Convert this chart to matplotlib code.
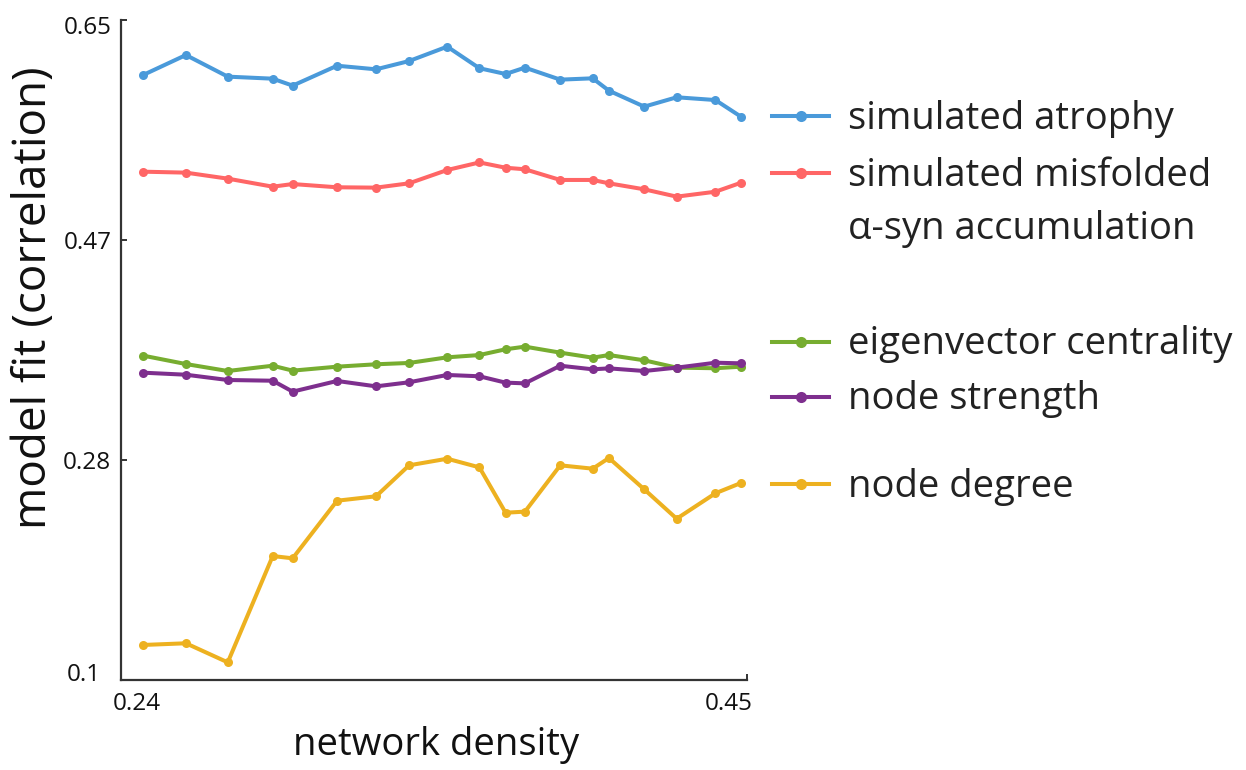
import matplotlib
matplotlib.use("Agg")
import matplotlib.pyplot as plt
from matplotlib.lines import Line2D
from matplotlib.transforms import ScaledTranslation

plt.rcParams['font.family'] = ['Open Sans', 'DejaVu Sans']

# ---------------- data ----------------
density = [0.2400, 0.2550, 0.2697, 0.2855, 0.2925, 0.3081, 0.3218, 0.3334,
           0.3468, 0.3581, 0.3673, 0.3741, 0.3865, 0.3979, 0.4036, 0.4160,
           0.4274, 0.4410, 0.4500]

atrophy = [0.6042, 0.6208, 0.6028, 0.6011, 0.5953, 0.6119, 0.6089, 0.6158,
           0.6278, 0.6098, 0.6050, 0.6103, 0.6003, 0.6014, 0.5911, 0.5778,
           0.5856, 0.5833, 0.5694]
misfolded = [0.5236, 0.5228, 0.5178, 0.5111, 0.5133, 0.5106, 0.5103, 0.5139,
             0.5250, 0.5313, 0.5269, 0.5256, 0.5167, 0.5167, 0.5139, 0.5089,
             0.5028, 0.5069, 0.5144]
eigen = [0.3703, 0.3633, 0.3575, 0.3619, 0.3578, 0.3611, 0.3631, 0.3642,
         0.3689, 0.3708, 0.3756, 0.3778, 0.3728, 0.3686, 0.3708, 0.3664,
         0.3603, 0.3598, 0.3611]
strength = [0.3561, 0.3544, 0.3500, 0.3494, 0.3403, 0.3492, 0.3447, 0.3481,
            0.3542, 0.3531, 0.3478, 0.3472, 0.3619, 0.3589, 0.3597, 0.3575,
            0.3603, 0.3644, 0.3639]
degree = [0.1292, 0.1306, 0.1147, 0.2033, 0.2014, 0.2494, 0.2531, 0.2789,
          0.2844, 0.2772, 0.2394, 0.2403, 0.2789, 0.2761, 0.2850, 0.2589,
          0.2344, 0.2556, 0.2642]

series_names = ['simulated atrophy', 'simulated misfolded\nα-syn accumulation',
                'eigenvector centrality', 'node strength', 'node degree']
series_values = [atrophy, misfolded, eigen, strength, degree]
series_colors = ['#4A9ADA', '#FF6666', '#77AD30', '#7E2F8E', '#EDB120']

yticks = [0.1, 0.2833, 0.4667, 0.65]
ytick_labels = ['0.1', '0.28', '0.47', '0.65']
xticks = [0.24, 0.45]
xtick_labels = ['0.24', '0.45']

# ---------------- figure ----------------
W, H = 1246, 770
fig = plt.figure(figsize=(W / 100, H / 100), dpi=100)
ax = fig.add_axes([121 / W, 1 - 680 / H, (747 - 121) / W, (680 - 20) / H])

LW = 2.9
MS = 6.5
for vals, col in zip(series_values, series_colors):
    ax.plot(density, vals, color=col, lw=LW, marker='o', ms=MS,
            markeredgewidth=0, solid_joinstyle='round', clip_on=False)

ax.set_xlim(0.2322, 0.4521)
ax.set_ylim(0.1, 0.65)

spine_col = '#333333'
for s in ['top', 'right']:
    ax.spines[s].set_visible(False)
for s in ['left', 'bottom']:
    ax.spines[s].set_color(spine_col)
    ax.spines[s].set_linewidth(1.6)

ax.set_yticks(yticks)
ax.set_yticklabels(ytick_labels)
ax.set_xticks(xticks)
ax.set_xticklabels(xtick_labels)
ax.tick_params(axis='y', direction='in', length=4.5, width=1.4, color=spine_col,
               labelsize=17.5, pad=7, labelcolor='#111111')
ax.tick_params(axis='x', direction='in', length=0, labelsize=17.5, pad=9,
               labelcolor='#111111')
# end tick mark on the x axis (right end)
ax.set_xticks([0.4521], minor=True)
ax.tick_params(axis='x', which='minor', direction='in', length=4.5, width=1.4,
               color=spine_col)

# shift tick labels slightly as in reference
xoffs = [(-6, 0), (-12, 0)]
for lab, (dx, dy) in zip(ax.get_xticklabels(), xoffs):
    lab.set_transform(lab.get_transform() +
                      ScaledTranslation(dx / 100, dy / 100, fig.dpi_scale_trans))
yoffs = [(-10, 8), (0, 0), (0, 0), (0, -5)]
for lab, (dx, dy) in zip(ax.get_yticklabels(), yoffs):
    lab.set_transform(lab.get_transform() +
                      ScaledTranslation(dx / 100, dy / 100, fig.dpi_scale_trans))

ax.set_xlabel('network density', fontsize=27.5, color='#111111')
ax.set_ylabel('model fit (correlation)', fontsize=33, color='#111111')
ax.xaxis.set_label_coords(0.503, -0.070)
ax.yaxis.set_label_coords(-0.103, 0.58)

# ---------------- legend (manual layout) ----------------
leg_handle_y = [116, 173, 342, 396.5, 484]   # pixel rows of legend handles
leg_line_step = 53                          # pixel step between wrapped lines
leg_x0, leg_x1, leg_text_x = 772, 829, 848
for name, col, py in zip(series_names, series_colors, leg_handle_y):
    fy = 1 - py / H
    fig.add_artist(Line2D([leg_x0 / W, leg_x1 / W], [fy, fy], color=col, lw=LW,
                          transform=fig.transFigure))
    fig.add_artist(Line2D([(leg_x0 + leg_x1) / 2 / W], [fy], color=col, marker='o',
                          ms=MS + 1.5, markeredgewidth=0, transform=fig.transFigure))
    for i, line in enumerate(name.split('\n')):
        fig.text(leg_text_x / W, 1 - (py + 12.5 + i * leg_line_step) / H, line,
                 fontsize=27.5, color='#222222', ha='left', va='baseline')

fig.savefig('out.png', dpi=100)
